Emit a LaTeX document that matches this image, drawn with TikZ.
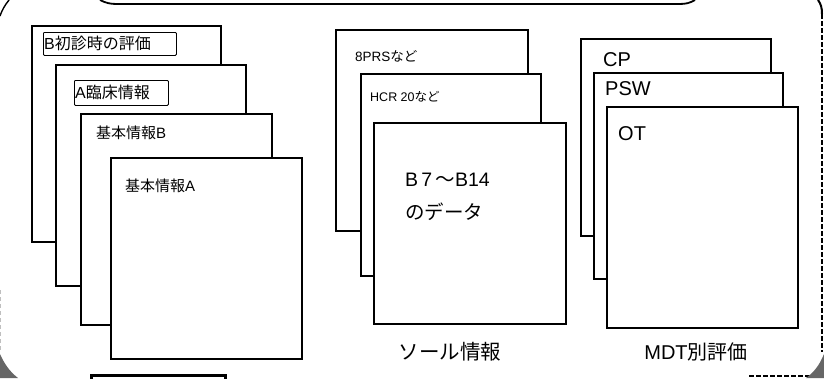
\documentclass[tikz,border=0pt]{standalone}
\usepackage{fontspec}
\setmainfont{Liberation Sans}
\newfontfamily\jp{Noto Sans CJK JP}
\usetikzlibrary{patterns}
\begin{document}
\begin{tikzpicture}[x=1pt,y=-1pt,
  sheet/.style={draw=black,fill=white,line width=1.3pt},
  tagbox/.style={draw=black,line width=0.8pt,rounded corners=1pt},
  txt/.style={inner sep=0pt,anchor=west},
  captext/.style={inner sep=0pt,anchor=center,font=\fontsize{20}{22}\selectfont},
  frame/.style={line width=1.8pt,draw=black},
  dframe/.style={line width=1.6pt,draw=black,dash pattern=on 5pt off 2pt},
  cornerfill/.style={fill=black!60,draw=none}]
\useasboundingbox (0,0) rectangle (824,378);
\begin{scope}
\clip (0,0) rectangle (824,378);
% outer frame fragments
\draw[frame] (100,0) .. controls (106,3) and (110,4) .. (117,4) -- (679,4) .. controls (686,4) and (690,3) .. (695,0);
\draw[line width=1.4pt] (9,0) .. controls (5,5) and (2,10) .. (0,16);
\draw[line width=2pt] (818,0) .. controls (821,4) and (822,8) .. (822,14);
\draw[dframe] (822,14) -- (822,352);
\draw[dframe] (749,376) -- (810,376);
\fill[cornerfill] (806,378) .. controls (814,372) and (819,366) .. (824,354) -- (824,378) -- cycle;
\draw[line width=0.5pt,black!25,dash pattern=on 4pt off 3pt] (0.5,290) -- (0.5,352);
\fill[cornerfill] (0,354) .. controls (4,363) and (9,371) .. (18,378) -- (0,378) -- cycle;
\draw[line width=3pt] (91,384) -- (91,375) -- (225,375) -- (225,384);
\end{scope}
% left stack
\draw[sheet] (32,26) rectangle (221,242);
\node[tagbox,minimum width=133pt,minimum height=23pt,anchor=north west] (tagB) at (43,32) {};
\node[txt] (tB) at (44,43.5) {\fontsize{16}{18}\selectfont B{\jp 初診時の評価}};
\draw[sheet] (56,65) rectangle (246,286);
\node[tagbox,minimum width=94pt,minimum height=25pt,anchor=north west] (tagA) at (74,80) {};
\node[txt] (tA) at (75,92.5) {\fontsize{16}{18}\selectfont A{\jp 臨床情報}};
\draw[sheet] (81,114) rectangle (272,325);
\node[txt] (kB) at (96,133) {\fontsize{15}{17}\selectfont{\jp 基本情報}B};
\draw[sheet] (111,158) rectangle (302,359);
\node[txt] (kA) at (125,186) {\fontsize{15}{17}\selectfont{\jp 基本情報}A};
% middle stack
\draw[sheet] (336,30) rectangle (528,231);
\node[txt] (bprs) at (355,56) {\fontsize{13.5}{15}\selectfont 8PRS{\jp など}};
\draw[sheet] (361,74) rectangle (541,276);
\node[txt] (hcr) at (370,97) {\fontsize{12.5}{14}\selectfont HCR 20{\jp など}};
\draw[sheet] (374,123) rectangle (566,324);
\node[txt] (b7) at (405,180) {\fontsize{19.5}{21}\selectfont B\,7\,{\jp ～}B14};
\node[txt] (data) at (405,212) {\fontsize{19.5}{21}\selectfont\jp のデータ};
\node[captext] (sole) at (450,352) {\fontsize{20.5}{22}\selectfont\jp ソール情報};
% right stack
\draw[sheet] (581,39) rectangle (771,236);
\node[txt] (cp) at (603,60) {\fontsize{20}{22}\selectfont CP};
\draw[sheet] (594,73) rectangle (783,279);
\node[txt] (psw) at (605,89) {\fontsize{20}{22}\selectfont PSW};
\draw[sheet] (607,107) rectangle (798,328);
\node[txt] (ot) at (618,134) {\fontsize{20}{22}\selectfont OT};
\node[captext] (mdt) at (696,352) {MDT{\jp 別評価}};
\end{tikzpicture}
\end{document}
